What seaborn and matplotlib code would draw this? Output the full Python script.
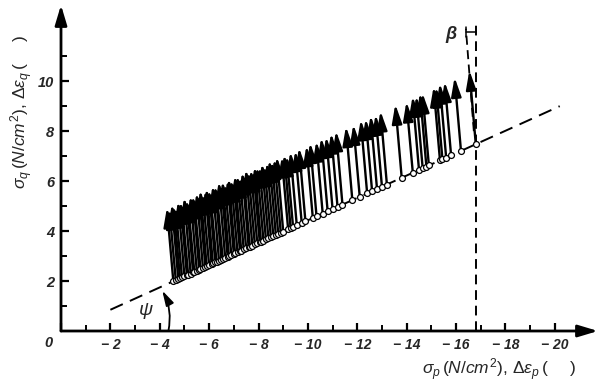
import numpy as np
import pandas as pd
import matplotlib
matplotlib.use("Agg")
import matplotlib.pyplot as plt
import seaborn as sns

# stress points on the yield line (sigma_p negative, plotted to the right)
sigma_p = [-4.55, -4.65, -4.75, -4.82, -4.9, -5.0, -5.1, -5.15, -5.25, -5.35,
           -5.4, -5.5, -5.6, -5.65, -5.75, -5.85, -5.9, -6.0, -6.1, -6.15,
           -6.25, -6.3, -6.4, -6.5, -6.55, -6.65, -6.75, -6.8, -6.9, -7.0,
           -7.05, -7.15, -7.25, -7.3, -7.4, -7.5, -7.6, -7.65, -7.75, -7.85,
           -7.95, -8.05, -8.1, -8.2, -8.3, -8.4, -8.5, -8.6, -8.7, -8.8,
           -8.9, -9.0, -9.2, -9.3, -9.4, -9.55, -9.75, -9.9, -10.2, -10.35,
           -10.6, -10.8, -11.0, -11.2, -11.4, -11.8, -12.1, -12.4, -12.6, -12.8,
           -13.0, -13.2, -13.8, -14.25, -14.5, -14.65, -14.8, -14.9, -15.35, -15.45,
           -15.6, -15.8, -16.2, -16.8]
sigma_q = [1.99, 2.03, 2.08, 2.11, 2.15, 2.19, 2.23, 2.26, 2.30, 2.35,
           2.37, 2.41, 2.46, 2.48, 2.53, 2.57, 2.59, 2.64, 2.68, 2.71,
           2.75, 2.77, 2.82, 2.86, 2.88, 2.93, 2.97, 3.00, 3.04, 3.09,
           3.11, 3.15, 3.20, 3.22, 3.27, 3.31, 3.36, 3.38, 3.42, 3.47,
           3.51, 3.56, 3.58, 3.62, 3.67, 3.71, 3.76, 3.80, 3.85, 3.89,
           3.94, 3.98, 4.07, 4.12, 4.16, 4.23, 4.32, 4.39, 4.52, 4.59,
           4.70, 4.79, 4.88, 4.97, 5.06, 5.24, 5.37, 5.51, 5.60, 5.68,
           5.77, 5.86, 6.13, 6.33, 6.45, 6.51, 6.58, 6.63, 6.83, 6.87,
           6.94, 7.03, 7.21, 7.48]
# plastic strain increments (arrows)
d_eps_p = [0.26] * 84
d_eps_q = [2.95, 2.85, 3.0, 2.9, 2.8, 3.0, 2.95, 2.85, 3.05, 2.9,
           2.8, 3.0, 2.95, 2.85, 3.0, 2.9, 3.05, 2.85, 2.95, 3.0,
           2.9, 2.8, 3.0, 2.95, 2.85, 3.05, 2.9, 3.0, 2.85, 2.95,
           3.0, 2.9, 2.8, 3.0, 2.95, 2.85, 3.0, 2.9, 3.05, 2.9,
           2.95, 2.85, 3.0, 2.95, 2.9, 3.0, 2.85, 2.95, 3.0, 2.9,
           2.95, 3.0, 2.9, 2.95, 2.85, 2.95, 2.9, 2.95, 2.9, 2.95,
           2.9, 2.95, 2.9, 2.95, 2.95, 2.95, 2.9, 2.95, 2.9, 2.95,
           2.9, 2.95, 2.95, 2.85, 2.95, 2.9, 2.95, 2.9, 2.95, 2.9,
           2.98, 2.95, 2.95, 2.96]

line_p = [-2.0, -20.2]
line_q = [0.85, 9.0]

x_major = [0, -2, -4, -6, -8, -10, -12, -14, -16, -18, -20]
x_labels = ["", "− 2", "− 4", "− 6", "− 8", "− 10", "− 12", "− 14", "− 16",
            "− 18", "− 20"]
y_major = [2, 4, 6, 8, 10]

sns.set_style("white")
plt.rcParams["font.family"] = ["Liberation Sans", "DejaVu Sans"]
plt.rcParams["mathtext.fontset"] = "custom"
plt.rcParams["mathtext.rm"] = "Liberation Sans"
plt.rcParams["mathtext.it"] = "Liberation Sans:italic"

fig = plt.figure(figsize=(6.0, 3.88), dpi=100)
ax = fig.add_axes([61 / 600, 57 / 388, 537 / 600, 326 / 388])
ax.set_xlim(0, -21.75)
ax.set_ylim(0, 13.05)
for s in ax.spines.values():
    s.set_visible(False)

# axes with arrow heads
ax.annotate("", xy=(1, 0), xytext=(0, 0), xycoords="axes fraction",
            arrowprops=dict(arrowstyle="-|>,head_length=1.0,head_width=0.3",
                            lw=2.0, color="black", mutation_scale=12,
                            shrinkA=0, shrinkB=0))
ax.annotate("", xy=(0, 1), xytext=(0, 0), xycoords="axes fraction",
            arrowprops=dict(arrowstyle="-|>,head_length=1.0,head_width=0.3",
                            lw=2.0, color="black", mutation_scale=12,
                            shrinkA=0, shrinkB=0))

# dashed yield line
df_line = pd.DataFrame({"p": line_p, "q": line_q})
sns.lineplot(data=df_line, x="p", y="q", ax=ax, color="black", lw=1.4,
             linestyle=(0, (7, 4)), sort=False)

# vertical dashed line at the last point and tilted direction line
ax.plot([sigma_p[-1], sigma_p[-1]], [0, 12.45], color="black", lw=1.4,
        linestyle=(0, (5, 3)))
ax.plot([sigma_p[-1] + 0.08, sigma_p[-1] + 0.4], [8.0, 12.1], color="black",
        lw=1.3, linestyle=(0, (5, 3)))
ax.plot([sigma_p[-1] + 0.4, sigma_p[-1]], [11.95, 11.95], color="black", lw=1.1)
ax.plot([sigma_p[-1] + 0.4, sigma_p[-1] + 0.4], [11.75, 12.15], color="black", lw=1.1)
ax.text(-15.8, 11.85, "β", fontsize=13, ha="center", va="center",
        fontweight="bold", fontstyle="italic")

# strain increment arrows
for p, q, dp, dq in zip(sigma_p, sigma_q, d_eps_p, d_eps_q):
    ax.annotate("", xy=(p + dp, q + dq), xytext=(p, q),
                arrowprops=dict(arrowstyle="-|>,head_length=1.15,head_width=0.3",
                                lw=1.7, color="black", mutation_scale=10,
                                shrinkA=0, shrinkB=0))

# points
df_pts = pd.DataFrame({"p": sigma_p, "q": sigma_q})
sns.scatterplot(data=df_pts, x="p", y="q", ax=ax, s=18, facecolor="white",
                edgecolor="black", linewidth=0.9, zorder=5)

# psi angle
ax.annotate("", xy=(-4.1, 1.62), xytext=(-4.35, 0.0),
            arrowprops=dict(arrowstyle="-|>,head_length=0.9,head_width=0.25",
                            lw=1.3, color="black", mutation_scale=10,
                            connectionstyle="arc3,rad=0.18", shrinkA=0, shrinkB=0))
ax.text(-3.45, 0.82, "ψ", fontsize=14, ha="center", va="center",
        fontstyle="italic")

# ticks
ax.set_xticks(x_major)
ax.set_xticklabels(x_labels, fontstyle="italic", fontsize=10, fontweight="bold")
ax.set_xticks([-1, -3, -5, -7, -9, -11, -13, -15, -17, -19], minor=True)
ax.set_yticks(y_major)
ax.set_yticklabels([str(v) for v in y_major], fontstyle="italic", fontsize=10.5,
                   fontweight="bold")
ax.set_yticks([1, 3, 5, 7, 9, 11], minor=True)
ax.tick_params(axis="both", which="major", direction="in", length=6, width=1.6,
               pad=5, bottom=True, left=True, color="black")
ax.tick_params(axis="both", which="minor", direction="in", length=4, width=1.4,
               bottom=True, left=True, color="black")
ax.set_xlabel("")
ax.set_ylabel("")
ax.text(0.5, -0.5, "0", fontstyle="italic", fontsize=10.5, fontweight="bold",
        ha="center", va="center", clip_on=False)

fig.text(22 / 600, 1 - 112 / 388,
         r"$\sigma_q\,(N/cm^2),\,\Delta\varepsilon_q\,(\quad\;\;)$",
         rotation=90, ha="center", va="center", fontsize=12.5)
fig.text(499 / 600, 1 - 370 / 388,
         r"$\sigma_p\,(N/cm^2),\,\Delta\varepsilon_p\,(\quad\;\;)$",
         ha="center", va="center", fontsize=12.5)

fig.savefig("out.png", dpi=100, facecolor="white")
